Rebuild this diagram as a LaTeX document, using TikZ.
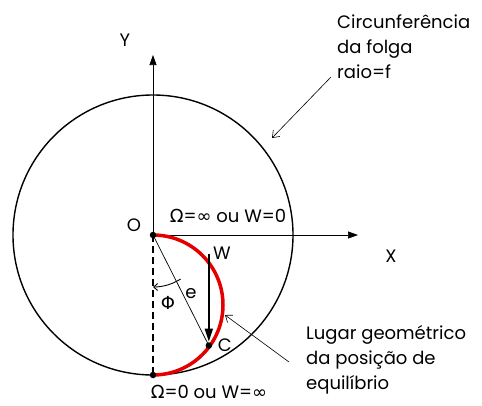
\documentclass[tikz,border=0pt]{standalone}
\usepackage{fontspec}
\setmainfont{Poppins}
\newfontfamily\dv{DejaVu Sans}
\usetikzlibrary{arrows.meta,calc}
\begin{document}
\begin{tikzpicture}[x=1pt,y=-1pt,
  lbl/.style={font=\fontsize{18}{25}\selectfont, inner sep=0pt},
  axis/.style={line width=0.7pt, -{Triangle[length=10pt,width=7pt]}},
  pointer/.style={line width=0.6pt, -{Straight Barb[length=6pt,width=9pt]}},
  dot/.style={circle, fill=black, inner sep=0pt, minimum size=6.5pt},
]
\useasboundingbox (0,0) rectangle (482,405);
\coordinate (O) at (153,235);
\coordinate (B) at (153,375);
\coordinate (Mc) at (153,305);
\coordinate (C) at ($(Mc)+(36:69)$);
% big circle
\draw[line width=1.4pt] (O) circle[radius=140];
% axes
\coordinate (Xend) at (358,235);
\coordinate (Yend) at (153,55);
\draw[axis] (O) -- (Xend);
\draw[axis] (O) -- (Yend);
% dashed vertical
\draw[line width=1.3pt, dash pattern=on 7pt off 4pt] (O) -- (B);
% red arc
\draw[red!90!black, line width=3.5pt] (O) arc[start angle=-90, end angle=90, radius=70];
% OC line
\draw[line width=0.7pt] (O) -- (C);
% W arrow
\coordinate (Wtop) at ($(C)+(0,-92)$);
\draw[line width=1.7pt, -{Triangle[length=13pt,width=8pt]}, shorten >=4pt] (Wtop) -- (C);
% phi arc
\draw[line width=0.9pt, -{Straight Barb[length=4pt,width=7pt]}] ($(O)+(58:52)$) arc[start angle=58, end angle=90, radius=52];
% dots
\node[dot] (Od) at (O) {};
\node[dot] (Bd) at (B) {};
\node[dot] (Cd) at (C) {};
% labels
\node[lbl] (Ol) at (134,225) {O};
\node[lbl] (Xl) at (391,256) {X};
\node[lbl] (Yl) at (125,40) {Y};
\node[lbl] (Wl) at (222,253) {W};
\node[lbl] (Cl) at ($(C)+(16,0)$) {C};
\node[lbl] (el) at (191,294) {e};
\node[lbl] (phil) at (168,303) {\dv Φ};
\node[lbl] (top) at (228,216) {{\dv Ω}={\dv ∞} ou W=0};
\node[lbl] (bot) at (209,392) {{\dv Ω}=0 ou W={\dv ∞}};
\node[lbl, anchor=west, align=left] (circ) at (337,47) {Circunferência\\da folga\\raio=f};
\node[lbl, anchor=west, align=left] (lug) at (306,360) {Lugar geométrico\\da posição de\\equilíbrio};
% pointers
\coordinate (p1s) at (331,77);
\coordinate (p1e) at (272,138);
\draw[pointer] (p1s) -- (p1e);
\coordinate (p2s) at (289,362);
\coordinate (p2e) at (225,315);
\draw[pointer] (p2s) -- (p2e);
\end{tikzpicture}
\end{document}
